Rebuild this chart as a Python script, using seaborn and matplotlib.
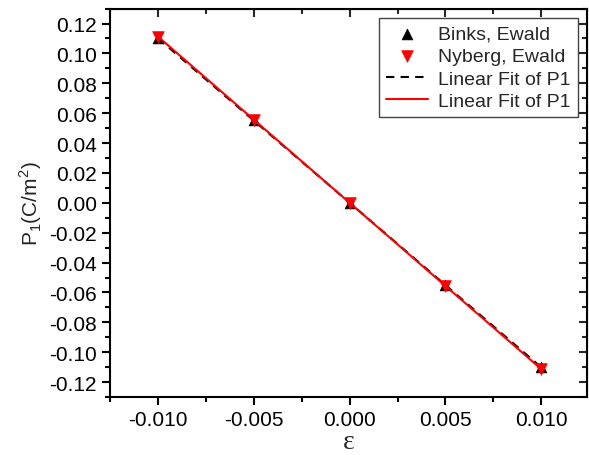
import matplotlib
matplotlib.use("Agg")
import matplotlib.pyplot as plt
import seaborn as sns
import numpy as np
from matplotlib.ticker import MultipleLocator, FormatStrFormatter

strain = [-0.010, -0.005, 0.000, 0.005, 0.010]
binks = [0.1100, 0.0552, 0.0000, -0.0552, -0.1100]
nyberg = [0.1112, 0.0557, 0.0000, -0.0557, -0.1112]

sns.set_style("ticks")
plt.rcParams["font.family"] = ["Liberation Sans", "DejaVu Sans"]
plt.rcParams["mathtext.fontset"] = "custom"
plt.rcParams["mathtext.rm"] = "Liberation Sans"

fig, ax = plt.subplots(figsize=(5.89, 4.56), dpi=100)
fig.subplots_adjust(left=0.187, right=0.997, top=0.979, bottom=0.127)

# fits
kb, bb = np.polyfit(strain, binks, 1)
kn, bn = np.polyfit(strain, nyberg, 1)
xs = np.array([strain[0], strain[-1]])

sns.scatterplot(x=strain, y=binks, marker="^", color="black", s=60,
                edgecolor="black", linewidth=0.5, ax=ax, label="Binks, Ewald", zorder=3)
sns.scatterplot(x=strain, y=nyberg, marker="v", color="red", s=70,
                edgecolor="red", linewidth=0.5, ax=ax, label="Nyberg, Ewald", zorder=4)
sns.lineplot(x=xs, y=kb * xs + bb, color="black", linestyle=(0, (4, 3)), linewidth=1.5,
             ax=ax, label="Linear Fit of P1", zorder=2)
sns.lineplot(x=xs, y=kn * xs + bn, color="red", linewidth=1.5,
             ax=ax, label="Linear Fit of P1", zorder=5)

ax.set_xlim(-0.0125, 0.0124)
ax.set_ylim(-0.13, 0.13)
ax.xaxis.set_major_locator(MultipleLocator(0.005))
ax.xaxis.set_minor_locator(MultipleLocator(0.0025))
ax.yaxis.set_major_locator(MultipleLocator(0.02))
ax.yaxis.set_minor_locator(MultipleLocator(0.01))
ax.xaxis.set_major_formatter(FormatStrFormatter("%.3f"))
ax.yaxis.set_major_formatter(FormatStrFormatter("%.2f"))

for s in ax.spines.values():
    s.set_linewidth(1.5)
    s.set_color("black")
ax.tick_params(which="both", direction="out", width=1.5, labelsize=15, colors="black")
ax.tick_params(which="major", length=6)
ax.tick_params(which="minor", length=3.5)

# inward ticks on top and right
axt = ax.secondary_xaxis("top")
axt.xaxis.set_major_locator(MultipleLocator(0.005))
axt.xaxis.set_minor_locator(MultipleLocator(0.0025))
axt.tick_params(which="both", direction="in", width=1.5, labeltop=False)
axt.tick_params(which="major", length=6)
axt.tick_params(which="minor", length=3.5)
axr = ax.secondary_yaxis("right")
axr.yaxis.set_major_locator(MultipleLocator(0.02))
axr.yaxis.set_minor_locator(MultipleLocator(0.01))
axr.tick_params(which="both", direction="in", width=1.5, labelright=False)
axr.tick_params(which="major", length=6)
axr.tick_params(which="minor", length=3.5)

ax.set_xlabel("ε", fontsize=20, family=["Liberation Serif", "DejaVu Serif"], labelpad=0)
ax.set_ylabel("P$_1$(C/m$^2$)", fontsize=15, labelpad=4)

leg = ax.legend(loc="upper right", fontsize=14, frameon=True, fancybox=False,
                edgecolor="#444444", framealpha=1, borderaxespad=0.5,
                handlelength=2.2, labelspacing=0.25, borderpad=0.35, handletextpad=0.5)
leg.get_frame().set_linewidth(1.0)

fig.savefig("out.png", dpi=100)
